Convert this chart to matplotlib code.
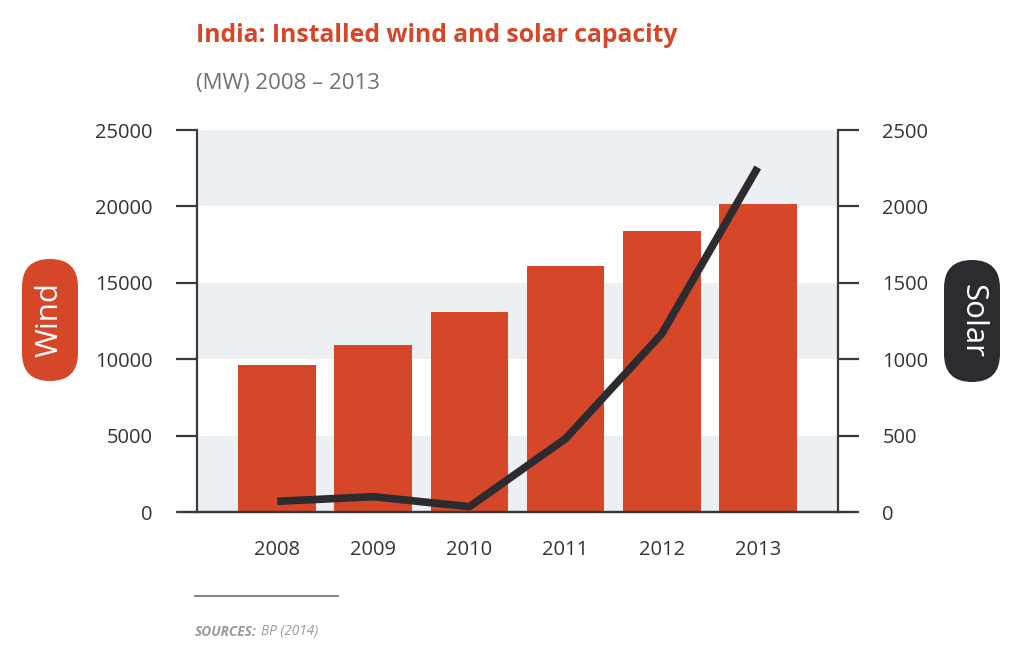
import matplotlib
matplotlib.use("Agg")
import matplotlib.pyplot as plt
from matplotlib.patches import FancyBboxPatch
from matplotlib.transforms import IdentityTransform

plt.rcParams['font.family'] = ['Open Sans', 'DejaVu Sans']

years = ["2008", "2009", "2010", "2011", "2012", "2013"]
wind = [9600, 10930, 13070, 16100, 18400, 20150]
solar = [70, 100, 35, 480, 1165, 2255]

red = "#d6472a"
dark = "#2b2b30"
axis_col = "#3a3a3e"
band = "#edf0f3"

fig = plt.figure(figsize=(10.24, 6.6), dpi=100)
ax = fig.add_axes([197 / 1024, 1 - 512 / 660, 641 / 1024, 382 / 660])
ax2 = ax.twinx()

# grey bands
for lo in (0, 10000, 20000):
    ax.axhspan(lo, lo + 5000, color=band, zorder=0, lw=0)

x = list(range(len(years)))
ax.bar(x, wind, width=0.81, color=red, zorder=2)
ax2.plot(x, solar, color=dark, lw=5.5, solid_capstyle="butt", zorder=3)

ax.set_xlim(-0.835, 5.835)
ax.set_ylim(0, 25000)
ax2.set_ylim(0, 2500)
ax.set_yticks(range(0, 25001, 5000))
ax2.set_yticks(range(0, 2501, 500))
ax.set_xticks(x)
ax.set_xticklabels(years)

for a in (ax, ax2):
    for s in a.spines.values():
        s.set_color(axis_col)
        s.set_linewidth(1.6)
    a.spines["top"].set_visible(False)
    a.tick_params(axis="y", length=15, width=1.6, color=axis_col, pad=17,
                  labelsize=14.5, labelcolor="#333333")
ax.tick_params(axis="x", length=0, pad=20, labelsize=14.5, labelcolor="#333333")
ax2.spines["left"].set_visible(False)
ax2.spines["bottom"].set_visible(False)
ax.spines["right"].set_visible(False)
ax.set_zorder(1)
ax2.set_zorder(2)
ax.patch.set_visible(False)

# bottom line running across both 0 ticks
fig.add_artist(plt.Line2D([182 / 1024, 853 / 1024], [1 - 512 / 660] * 2,
                          color=axis_col, lw=1.6, transform=fig.transFigure))

# title
fig.text(196 / 1024, 1 - 36 / 660, "India: Installed wind and solar capacity",
         color=red, fontsize=17.8, fontweight="bold", va="center", ha="left")
fig.text(196 / 1024, 1 - 84 / 660, "(MW) 2008 – 2013",
         color="#707075", fontsize=16, va="center", ha="left")

# pills
pill_w, pill_h = 56, 122
for cx, cy, col, label, rot in ((50, 340, red, "Wind", 90),
                                (972, 339, dark, "Solar", 270)):
    p = FancyBboxPatch((cx - pill_w / 2, cy - pill_h / 2), pill_w, pill_h,
                       boxstyle="round,pad=0,rounding_size=28",
                       fc=col, ec="none", transform=IdentityTransform())
    fig.patches.append(p)
    fig.text(cx / 1024, cy / 660, label, color="white", fontsize=22.5,
             rotation=rot, ha="center", va="center")

# source
fig.add_artist(plt.Line2D([195 / 1024, 338 / 1024], [1 - 596 / 660] * 2,
                          color="#77777a", lw=1.3, transform=fig.transFigure))
t = fig.text(195 / 1024, 1 - 632 / 660, "SOURCES:", color="#9a9a9e",
             fontsize=9.8, fontweight="bold", fontstyle="italic", va="center")
fig.canvas.draw()
bb = t.get_window_extent()
fig.text((bb.x1 + 4) / 1024, 1 - 632 / 660, "BP (2014)", color="#9a9a9e",
         fontsize=9.8, fontstyle="italic", va="center")

fig.savefig("out.png", dpi=100)
